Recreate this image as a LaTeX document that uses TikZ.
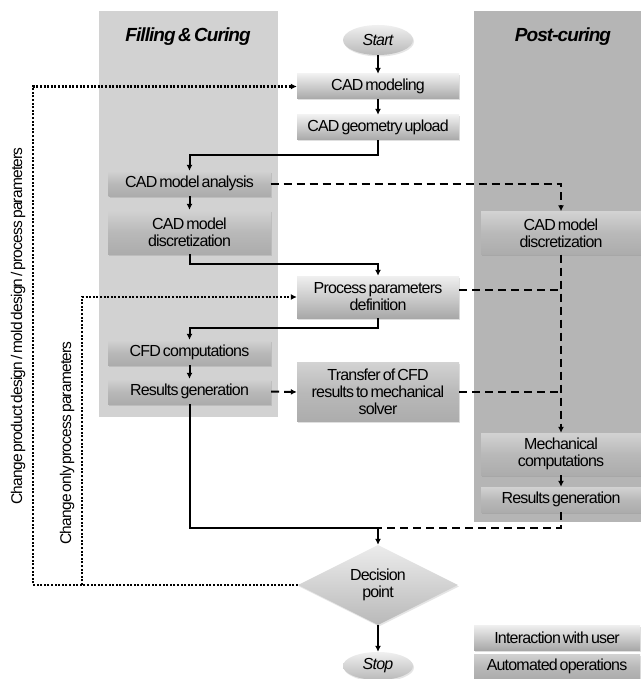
\documentclass[tikz,border=0pt]{standalone}
\usepackage{fontspec}
\setmainfont{Liberation Sans}
\newfontfamily\tightfont[LetterSpace=-5,WordSpace=0.55]{Liberation Sans}
\usetikzlibrary{arrows.meta,shapes.geometric,shadows,calc}
\begin{document}
\begin{tikzpicture}[x=1pt,y=-1pt,
  txt/.style={font=\tightfont\fontsize{16}{17}\selectfont, align=center, inner sep=0pt},
  usr/.style={txt, rectangle, top color=gray!12, bottom color=gray!68, middle color=gray!40,
    drop shadow={opacity=0.25,shadow xshift=1pt,shadow yshift=-1.5pt}},
  auto/.style={txt, rectangle, top color=gray!35, bottom color=gray!65, middle color=gray!55,
    drop shadow={opacity=0.25,shadow xshift=1pt,shadow yshift=-1.5pt}},
  term/.style={txt, ellipse, top color=gray!12, bottom color=gray!55, minimum width=70pt,
    font=\tightfont\fontsize{16}{17}\selectfont\itshape,
    drop shadow={opacity=0.2,shadow xshift=1pt,shadow yshift=-1.5pt}},
  sarr/.style={line width=2pt, -{Latex[length=6pt,width=6pt]}},
  sline/.style={line width=2pt},
  darr/.style={line width=2pt, dash pattern=on 8pt off 5pt, -{Latex[length=6pt,width=6pt]}},
  dline/.style={line width=2pt, dash pattern=on 8pt off 5pt},
  tarr/.style={line width=2.4pt, dash pattern=on 2pt off 1.6pt, -{Latex[length=6pt,width=6pt]}},
  lbl/.style={font=\tightfont\fontsize{15.5}{16.5}\selectfont, inner sep=0pt},
  paneltitle/.style={font=\tightfont\fontsize{19}{21}\selectfont\bfseries\itshape}
]
\useasboundingbox (0,0) rectangle (640,679);
\fill[white] (0,0) rectangle (640,679);
% panels
\fill[gray!35] (99,11) rectangle (278,417);
\fill[gray!58] (474,11) rectangle (641,522);
\node[paneltitle] (t1) at (188,37) {Filling \& Curing};
\node[paneltitle] (t2) at (563,37) {Post-curing};

% nodes
\node[term, minimum height=30pt] (start) at (378,40) {Start};
\node[usr, minimum width=162pt, minimum height=25pt] (cadmod) at (378,86.5) {CAD modeling};
\node[usr, minimum width=162pt, minimum height=25pt] (cadup) at (378,127.5) {CAD geometry upload};
\node[auto, minimum width=162pt, minimum height=25pt] (anal) at (189.5,183.5) {CAD model analysis};
\node[auto, minimum width=163pt, minimum height=44pt] (disc1) at (189.5,232) {CAD model\\discretization};
\node[usr, minimum width=162pt, minimum height=42pt] (proc) at (378,297) {Process parameters\\definition};
\node[auto, minimum width=163pt, minimum height=25pt] (cfd) at (189.5,352.5) {CFD computations};
\node[auto, minimum width=163pt, minimum height=25pt] (res1) at (189.5,391.5) {Results generation};
\node[auto, minimum width=162pt, minimum height=59pt] (trans) at (378,392) {Transfer of CFD\\results to mechanical\\solver};
\node[auto, minimum width=160pt, minimum height=43pt] (disc2) at (561,233) {CAD model\\discretization};
\node[auto, minimum width=160pt, minimum height=42pt] (mech) at (561,454) {Mechanical\\computations};
\node[auto, minimum width=160pt, minimum height=25pt] (res2) at (561,499.5) {Results generation};
\node[txt, diamond, aspect=2, minimum width=160pt, minimum height=80pt, top color=gray!15, bottom color=gray!55,
  drop shadow={opacity=0.2,shadow xshift=1pt,shadow yshift=-1.5pt}] (dec) at (378,585) {Decision\\point};
\node[term, minimum height=28pt] (stop) at (378,666) {Stop};
\node[usr, minimum width=166pt, minimum height=25pt] (leg1) at (557,637.5) {Interaction with user};
\node[auto, minimum width=166pt, minimum height=25pt] (leg2) at (557,666.5) {Automated operations};

% solid flow
\draw[sarr] (start) -- (cadmod);
\draw[sarr] (cadmod) -- (cadup);
\draw[sarr] (cadup.south) -- ++(0,15) -| (anal.north);
\draw[sarr] (anal) -- (disc1);
\draw[sarr] (disc1.south) -- ++(0,10) -| (proc.north);
\draw[sarr] (proc.south) -- ++(0,10) -| (cfd.north);
\draw[sarr] (cfd) -- (res1);
\draw[sarr] (mech) -- (res2);
\coordinate (join) at (378,528);
\draw[sline] (res1.south) |- (join);
\draw[sarr] (join) -- (dec.north);
\draw[sarr] (dec.south) -- (stop.north);

% dashed flow
\draw[darr] (res1.east) -- (trans.west);
\draw[darr] (anal.east) -| (disc2.north);
\draw[darr] (disc2.south) -- (mech.north);
\draw[dline] ([yshift=7pt]proc.east) -- ([yshift=7pt]proc.east -| disc2.south);
\draw[dline] (trans.east) -- (trans.east -| disc2.south);
\draw[dline] (res2.south) |- (join);

% dotted feedback
\coordinate (o1) at (33,585);
\coordinate (o2) at (33,86.5);
\coordinate (i1) at (82,585);
\coordinate (i2) at (82,297);
\draw[tarr] (dec.west) -- (o1) -- (o2) -- (cadmod.west);
\draw[tarr] (i1) -- (i2) -- (proc.west);

% labels
\node[lbl, rotate=90] (lab1) at (18,326) {Change product design / mold design / process parameters};
\node[lbl, rotate=90] (lab2) at (67,443) {Change only process parameters};
\end{tikzpicture}
\end{document}
